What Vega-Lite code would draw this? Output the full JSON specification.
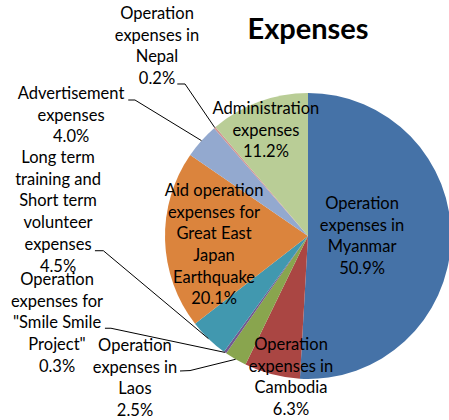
{
  "$schema": "https://vega.github.io/schema/vega-lite/v6.json",
  "autosize": {"type": "none"},
  "width": 282,
  "height": 368,
  "padding": {"left": 167, "top": 52, "right": 0, "bottom": 0},
  "background": "white",
  "config": {"view": {"stroke": null}, "font": "Lato"},
  "title": {"text": "Expenses", "fontSize": 29, "fontWeight": "bold", "font": "Lato", "color": "#000000", "anchor": "middle", "frame": "group", "offset": 0, "dy": 39},
  "datasets": {
    "expenses": [
      {"category": "Operation expenses in Myanmar", "value": 50.9},
      {"category": "Operation expenses in Cambodia", "value": 6.3},
      {"category": "Operation expenses in Laos", "value": 2.5},
      {"category": "Operation expenses for \"Smile Smile Project\"", "value": 0.3},
      {"category": "Long term training and Short term volunteer expenses", "value": 4.5},
      {"category": "Aid operation expenses for Great East Japan Earthquake", "value": 20.1},
      {"category": "Advertisement expenses", "value": 4.0},
      {"category": "Operation expenses in Nepal", "value": 0.2},
      {"category": "Administration expenses", "value": 11.2}
    ],
    "labels": [
      {"category": "Operation expenses in Nepal", "lines": ["Operation", "expenses in", "Nepal", "0.2%"], "lx": -105.6, "ly": 155.2},
      {"category": "Advertisement expenses", "lines": ["Advertisement", "expenses", "4.0%"], "lx": -165.7, "ly": 99.3},
      {"category": "Long term training and Short term volunteer expenses", "lines": ["Long term", "training and", "Short term", "volunteer", "expenses", "4.5%"], "lx": -174.8, "ly": 54.5},
      {"category": "Operation expenses for \"Smile Smile Project\"", "lines": ["Operation", "expenses for", "\"Smile Smile", "Project\"", "0.3%"], "lx": -175.5, "ly": -30.8},
      {"category": "Operation expenses in Laos", "lines": ["Operation", "expenses in", "Laos", "2.5%"], "lx": -121.0, "ly": -76.9},
      {"category": "Operation expenses in Cambodia", "lines": ["Operation", "expenses in", "Cambodia", "6.3%"], "lx": -11.9, "ly": -76.2},
      {"category": "Operation expenses in Myanmar", "lines": ["Operation", "expenses in", "Myanmar", "50.9%"], "lx": 37.8, "ly": 22.4},
      {"category": "Aid operation expenses for Great East Japan Earthquake", "lines": ["Aid operation", "expenses for", "Great East", "Japan", "Earthquake", "20.1%"], "lx": -65.7, "ly": 31.5},
      {"category": "Administration expenses", "lines": ["Administration", "expenses", "11.2%"], "lx": -29.4, "ly": 88.8}
    ],
    "leaders": [
      {"label": "Nepal", "step": 1, "lx": -91.4, "ly": 106.3},
      {"label": "Nepal", "step": 2, "lx": -86.0, "ly": 106.3},
      {"label": "Nepal", "step": 3, "lx": -65.2, "ly": 75.8},
      {"label": "Advertisement", "step": 1, "lx": -125.7, "ly": 95.1},
      {"label": "Advertisement", "step": 2, "lx": -121.0, "ly": 95.1},
      {"label": "Advertisement", "step": 3, "lx": -74.5, "ly": 66.7},
      {"label": "Long term", "step": 1, "lx": -149.0, "ly": -10.3},
      {"label": "Long term", "step": 2, "lx": -143.1, "ly": -10.3},
      {"label": "Long term", "step": 3, "lx": -69.6, "ly": -71.8},
      {"label": "Smile", "step": 1, "lx": -142.0, "ly": -64.5},
      {"label": "Smile", "step": 2, "lx": -137.8, "ly": -64.5},
      {"label": "Smile", "step": 3, "lx": -58.1, "ly": -81.4},
      {"label": "Laos", "step": 1, "lx": -89.5, "ly": -94.4},
      {"label": "Laos", "step": 2, "lx": -82.5, "ly": -94.1},
      {"label": "Laos", "step": 3, "lx": -50.6, "ly": -86.2}
    ]
  },
  "layer": [
    {
      "data": {"name": "expenses"},
      "transform": [{"window": [{"op": "row_number", "as": "rank"}]}],
      "mark": {"type": "arc", "outerRadius": 143},
      "encoding": {
        "theta": {"field": "value", "type": "quantitative", "stack": true},
        "order": {"field": "rank", "type": "quantitative"},
        "color": {
          "field": "category",
          "type": "nominal",
          "legend": null,
          "scale": {
            "domain": [
              "Operation expenses in Myanmar",
              "Operation expenses in Cambodia",
              "Operation expenses in Laos",
              "Operation expenses for \"Smile Smile Project\"",
              "Long term training and Short term volunteer expenses",
              "Aid operation expenses for Great East Japan Earthquake",
              "Advertisement expenses",
              "Operation expenses in Nepal",
              "Administration expenses"
            ],
            "range": ["#4572A7", "#AA4643", "#89A54E", "#71588F", "#4198AF", "#DB843D", "#93A9CF", "#D19392", "#B9CD96"]
          }
        }
      }
    },
    {
      "data": {"name": "leaders"},
      "mark": {"type": "line", "color": "#000000", "strokeWidth": 1},
      "encoding": {
        "x": {"field": "lx", "type": "quantitative", "axis": null, "scale": {"domain": [-98.6, 98.6], "nice": false, "zero": false}},
        "y": {"field": "ly", "type": "quantitative", "axis": null, "scale": {"domain": [-128.67, 128.67], "nice": false, "zero": false}},
        "detail": {"field": "label", "type": "nominal"},
        "order": {"field": "step", "type": "quantitative"}
      }
    },
    {
      "data": {"name": "labels"},
      "mark": {"type": "text", "font": "Lato", "fontSize": 16.5, "lineHeight": 21.7, "align": "center", "baseline": "middle", "color": "#000000"},
      "encoding": {
        "x": {"field": "lx", "type": "quantitative", "axis": null, "scale": {"domain": [-98.6, 98.6], "nice": false, "zero": false}},
        "y": {"field": "ly", "type": "quantitative", "axis": null, "scale": {"domain": [-128.67, 128.67], "nice": false, "zero": false}},
        "text": {"field": "lines"}
      }
    }
  ]
}
